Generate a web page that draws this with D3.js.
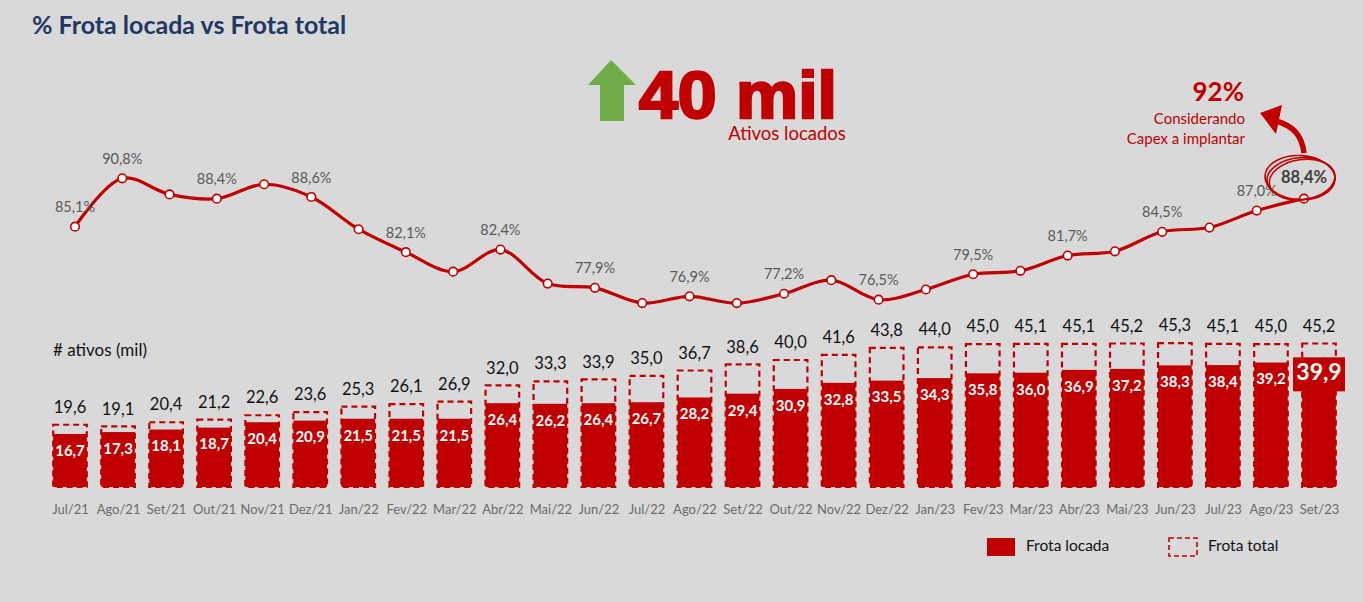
<!DOCTYPE html>
<html><head><meta charset="utf-8">
<script src="https://cdn.jsdelivr.net/npm/d3@7"></script>
<style>
html,body{margin:0;padding:0;background:#d9d9d9;}
svg{display:block;font-family:Lato, "Open Sans", sans-serif;}
</style></head>
<body>
<svg id="chart" width="1363" height="602"></svg>
<script>
const months = ["Jul/21","Ago/21","Set/21","Out/21","Nov/21","Dez/21","Jan/22","Fev/22","Mar/22","Abr/22","Mai/22","Jun/22","Jul/22","Ago/22","Set/22","Out/22","Nov/22","Dez/22","Jan/23","Fev/23","Mar/23","Abr/23","Mai/23","Jun/23","Jul/23","Ago/23","Set/23"];
const pctRented = [85.1,90.8,88.9,88.4,90.1,88.6,84.8,82.1,79.8,82.4,78.4,77.9,76.1,76.9,76.1,77.2,78.8,76.5,77.7,79.5,79.9,81.7,82.2,84.5,85.0,87.0,88.4];
const pctLabeled = ["Jul/21","Ago/21","Out/21","Dez/21","Fev/22","Abr/22","Jun/22","Ago/22","Out/22","Dez/22","Fev/23","Abr/23","Jun/23","Ago/23","Set/23"];
const totalFleet = [19.6,19.1,20.4,21.2,22.6,23.6,25.3,26.1,26.9,32.0,33.3,33.9,35.0,36.7,38.6,40.0,41.6,43.8,44.0,45.0,45.1,45.1,45.2,45.3,45.1,45.0,45.2];
const rentedFleet = [16.7,17.3,18.1,18.7,20.4,20.9,21.5,21.5,21.5,26.4,26.2,26.4,26.7,28.2,29.4,30.9,32.8,33.5,34.3,35.8,36.0,36.9,37.2,38.3,38.4,39.2,39.9];
const legendLabels = ["Frota locada","Frota total"];

const RED = "#c00000";
const loc = d3.formatLocale({decimal:",",thousands:".",grouping:[3],currency:["R$",""]});
const f1 = loc.format(".1f");

const svg = d3.select("#chart");

// Title
svg.append("text").attr("x",32).attr("y",34).attr("font-size",25).attr("font-weight",700)
  .attr("fill","#1f3864").text("% Frota locada vs Frota total");

// Header highlight: green arrow + 40 mil
svg.append("path").attr("d","M611,60 L636,85 L624,85 L624,121 L600,121 L600,85 L588,85 Z").attr("fill","#70ad47");
svg.append("text").attr("x",639).attr("y",118).attr("font-family","'Liberation Sans', Arial, sans-serif")
  .attr("font-size",66).attr("font-weight",700).attr("fill",RED).attr("stroke",RED).attr("stroke-width",2.5)
  .attr("textLength",198).attr("lengthAdjust","spacingAndGlyphs").text("40 mil");
svg.append("text").attr("x",787).attr("y",140).attr("text-anchor","middle").attr("font-size",18.5)
  .attr("fill",RED).text("Ativos locados");

// Line chart
const xLine = d3.scalePoint().domain(months).range([75,1304]);
const yLine = d3.scaleLinear().domain([76.5,90.8]).range([299.7,178.3]);
const lineData = months.map((m,i)=>({m, v:pctRented[i]}));
svg.append("path").datum(lineData)
  .attr("d", d3.line().x(d=>xLine(d.m)).y(d=>yLine(d.v)).curve(d3.curveCatmullRom.alpha(0.5)))
  .attr("fill","none").attr("stroke",RED).attr("stroke-width",3.2);
svg.selectAll("circle.pt").data(lineData).join("circle").attr("class","pt")
  .attr("cx",d=>xLine(d.m)).attr("cy",d=>yLine(d.v)).attr("r",4.3)
  .attr("fill","#fff").attr("stroke",RED).attr("stroke-width",1.6);
const lastM = months[months.length-1];
svg.selectAll("text.pl").data(lineData.filter(d=>pctLabeled.includes(d.m))).join("text").attr("class","pl")
  .attr("x",d=>xLine(d.m)).attr("y",d=>yLine(d.v) - (d.m===lastM?20:18))
  .attr("dominant-baseline","middle").attr("text-anchor","middle")
  .attr("font-size",d=>d.m===lastM?16.5:14.5).attr("font-weight",d=>d.m===lastM?700:400)
  .attr("fill",d=>d.m===lastM?"#404040":"#595959")
  .text(d=>f1(d.v)+"%");

// Circle annotation around last value
const lx = xLine(lastM), ly = yLine(pctRented[pctRented.length-1]) - 20;
[[0,-4,34,21],[1,-8,33,20],[-1,3,35,22]].forEach(([dx,rot,rx,ry])=>{
  svg.append("ellipse").attr("cx",lx-3+dx).attr("cy",ly+dx).attr("rx",rx).attr("ry",ry)
    .attr("transform",`rotate(${rot},${lx-3},${ly})`)
    .attr("fill","none").attr("stroke",RED).attr("stroke-width",1.6);
});
// Curved arrow
svg.append("path").attr("d","M1304,153 C1302,136 1294,126 1276,121")
  .attr("fill","none").attr("stroke",RED).attr("stroke-width",5.5);
svg.append("path").attr("d","M1260,113 L1282,105 L1276,134 Z").attr("fill",RED);
svg.append("text").attr("x",1244).attr("y",101).attr("text-anchor","end").attr("font-size",26)
  .attr("font-weight",700).attr("fill",RED).text("92%");
svg.append("text").attr("x",1245).attr("y",124).attr("text-anchor","end").attr("font-size",15)
  .attr("fill",RED).text("Considerando");
svg.append("text").attr("x",1245).attr("y",144).attr("text-anchor","end").attr("font-size",15)
  .attr("fill",RED).text("Capex a implantar");

// Bars
svg.append("text").attr("x",53).attr("y",356).attr("font-size",17).attr("fill","#111").text("# ativos (mil)");
const xBar = d3.scalePoint().domain(months).range([70,1319]);
const bw = xBar.step()*0.7;
const yBar = d3.scaleLinear().domain([0,45.2]).range([487,343.5]);
const barData = months.map((m,i)=>({m,t:totalFleet[i],r:rentedFleet[i]}));
const g = svg.append("g");
g.selectAll("rect.rent").data(barData).join("rect").attr("class","rent")
  .attr("x",d=>xBar(d.m)-bw/2).attr("width",bw)
  .attr("y",d=>yBar(d.r)).attr("height",d=>yBar(0)-yBar(d.r)).attr("fill",RED);
g.selectAll("rect.tot").data(barData).join("rect").attr("class","tot")
  .attr("x",d=>xBar(d.m)-bw/2).attr("width",bw)
  .attr("y",d=>yBar(d.t)).attr("height",d=>yBar(0)-yBar(d.t))
  .attr("fill","none").attr("stroke",RED).attr("stroke-width",2.2).attr("stroke-dasharray","6,4");
g.selectAll("text.tl").data(barData).join("text").attr("class","tl")
  .attr("x",d=>xBar(d.m)).attr("y",d=>yBar(d.t)-16).attr("text-anchor","middle")
  .attr("dominant-baseline","middle").attr("font-size",16.5).attr("fill","#111").text(d=>f1(d.t));
g.selectAll("text.rl").data(barData.filter(d=>d.m!==lastM)).join("text").attr("class","rl")
  .attr("x",d=>xBar(d.m)).attr("y",d=>yBar(d.r)+18).attr("text-anchor","middle")
  .attr("dominant-baseline","middle").attr("font-size",15).attr("font-weight",700).attr("fill","#fff").text(d=>f1(d.r));
// highlighted last bar value
const lb = barData[barData.length-1];
g.append("rect").attr("x",xBar(lb.m)-26).attr("y",yBar(lb.r)-3).attr("width",52).attr("height",34).attr("fill",RED);
g.append("text").attr("x",xBar(lb.m)).attr("y",yBar(lb.r)+14).attr("text-anchor","middle")
  .attr("dominant-baseline","middle").attr("font-size",23).attr("font-weight",700).attr("fill","#fff").text(f1(lb.r));

// X axis labels
const ax = svg.append("g").attr("transform","translate(0,497)")
  .call(d3.axisBottom(xBar).tickSize(0).tickPadding(8));
ax.select(".domain").remove();
ax.selectAll("text").attr("font-size",13).attr("fill","#6b6b6b").attr("font-family","Lato, sans-serif");

// Legend
svg.append("rect").attr("x",987).attr("y",538).attr("width",28).attr("height",18).attr("fill",RED);
svg.append("text").attr("x",1026).attr("y",547).attr("dominant-baseline","middle").attr("font-size",15.5).attr("fill","#111").text(legendLabels[0]);
svg.append("rect").attr("x",1169).attr("y",538).attr("width",28).attr("height",18).attr("fill","none")
  .attr("stroke",RED).attr("stroke-width",1.6).attr("stroke-dasharray","5,3");
svg.append("text").attr("x",1208).attr("y",547).attr("dominant-baseline","middle").attr("font-size",15.5).attr("fill","#111").text(legendLabels[1]);
</script>
</body></html>
